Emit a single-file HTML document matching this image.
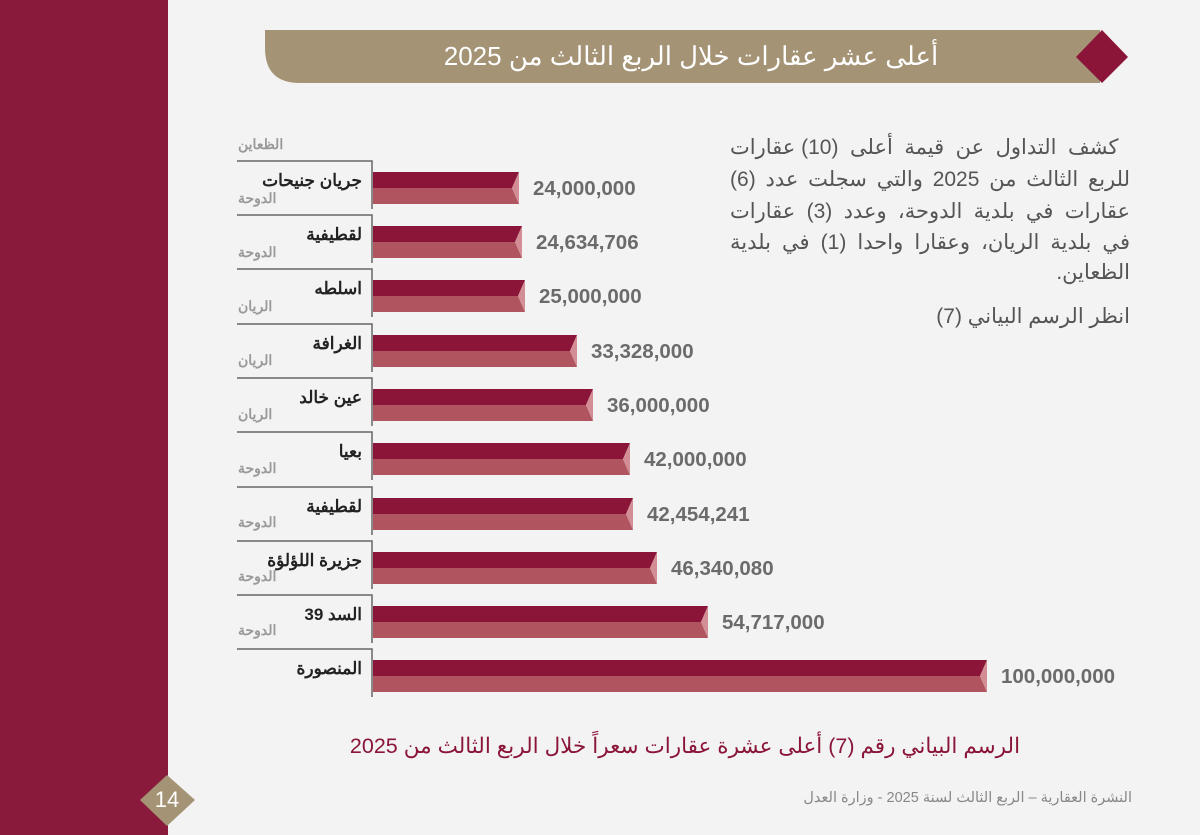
<!DOCTYPE html>
<html><head><meta charset="utf-8">
<style>
body{margin:0;width:1200px;height:835px;overflow:hidden;background:#f3f3f3;font-family:"Liberation Sans","Noto Sans CJK SC",sans-serif;position:relative}
.t{position:absolute;white-space:nowrap;line-height:1}
.nm{font-weight:bold;font-size:17px;color:#222;direction:rtl;text-align:right;right:838px}
.sb{font-size:14px;color:#999;left:238px;direction:rtl;font-weight:bold}
.v{font-weight:bold;font-size:20.5px;color:#6b6b6b}
.pl{position:absolute;left:730px;width:400px;direction:rtl;text-align:justify;text-align-last:justify;font-size:21px;line-height:1;color:#555;white-space:nowrap}
</style></head><body>
<div style="position:absolute;left:0;top:0;width:168px;height:835px;background:#8a1a3b"></div>
<svg width="1200" height="835" style="position:absolute;left:0;top:0">
<path d="M265 30 H1100 V83 H300 Q265 83 265 48 Z" fill="#a49374"/>
<polygon points="1102,30 1128,57 1102,83 1076,57" fill="#8a1538"/>
<polygon points="167,775 195,800 167,826 140,800" fill="#a49374"/>
<g stroke="#666" stroke-width="1.5" fill="none">
<path d="M237 161H372V209"/><path d="M237 215H372V263"/><path d="M237 269H372V317"/><path d="M237 324H372V372"/><path d="M237 378H372V426"/><path d="M237 432H372V480"/><path d="M237 487H372V535"/><path d="M237 541H372V589"/><path d="M237 595H372V643"/><path d="M237 649H372V697"/>
</g>
<g id="bars"></g>
</svg>
<script>
var tops=[161,215,269,324,378,432,487,541,595,649],ends=[519,522,525,577,593,630,633,657,708,987];
var g=document.getElementById('bars'),s='';
for(var i=0;i<10;i++){var t=tops[i]+11,e=ends[i];
s+='<polygon points="373,'+t+' '+e+','+t+' '+(e-7)+','+(t+16)+' 373,'+(t+16)+'" fill="#8a1538"/>';
s+='<polygon points="373,'+(t+16)+' '+(e-7)+','+(t+16)+' '+e+','+(t+32)+' 373,'+(t+32)+'" fill="#b0545f"/>';
s+='<polygon points="'+e+','+t+' '+(e-7)+','+(t+16)+' '+e+','+(t+32)+'" fill="#d38e95"/>';}
g.innerHTML=s;
</script>
<div class="t" style="left:441px;top:43px;font-size:26px;color:#fff;direction:rtl;width:500px;text-align:center">أعلى عشر عقارات خلال الربع الثالث من 2025</div>

<div class="t nm" style="top:172px">جريان جنيحات</div>
<div class="t nm" style="top:226px">لقطيفية</div>
<div class="t nm" style="top:280px">اسلطه</div>
<div class="t nm" style="top:335px">الغرافة</div>
<div class="t nm" style="top:389px">عين خالد</div>
<div class="t nm" style="top:443px">بعيا</div>
<div class="t nm" style="top:498px">لقطيفية</div>
<div class="t nm" style="top:552px">جزيرة اللؤلؤة</div>
<div class="t nm" style="top:606px">السد 39</div>
<div class="t nm" style="top:660px">المنصورة</div>

<div class="t sb" style="top:137px">الظعاين</div>
<div class="t sb" style="top:191px">الدوحة</div>
<div class="t sb" style="top:245px">الدوحة</div>
<div class="t sb" style="top:299px">الريان</div>
<div class="t sb" style="top:353px">الريان</div>
<div class="t sb" style="top:407px">الريان</div>
<div class="t sb" style="top:461px">الدوحة</div>
<div class="t sb" style="top:515px">الدوحة</div>
<div class="t sb" style="top:569px">الدوحة</div>
<div class="t sb" style="top:623px">الدوحة</div>

<div class="t v" style="left:533px;top:179px">24,000,000</div>
<div class="t v" style="left:536px;top:233px">24,634,706</div>
<div class="t v" style="left:539px;top:287px">25,000,000</div>
<div class="t v" style="left:591px;top:342px">33,328,000</div>
<div class="t v" style="left:607px;top:396px">36,000,000</div>
<div class="t v" style="left:644px;top:450px">42,000,000</div>
<div class="t v" style="left:647px;top:505px">42,454,241</div>
<div class="t v" style="left:671px;top:559px">46,340,080</div>
<div class="t v" style="left:722px;top:613px">54,717,000</div>
<div class="t v" style="left:1001px;top:667px">100,000,000</div>

<div class="pl" style="top:137px">&nbsp;كشف التداول عن قيمة أعلى (10) عقارات</div>
<div class="pl" style="top:169px">للربع الثالث من  2025 والتي سجلت عدد (6)</div>
<div class="pl" style="top:201px">عقارات في بلدية الدوحة، وعدد (3) عقارات</div>
<div class="pl" style="top:232px">في بلدية الريان، وعقارا واحدا (1) في بلدية</div>
<div class="pl" style="top:262px;text-align:right;text-align-last:right">الظعاين.</div>
<div class="pl" style="top:306px;text-align:right;text-align-last:right">انظر الرسم البياني (7)</div>

<div class="t" style="left:340px;top:736px;width:690px;text-align:center;direction:rtl;font-size:21.5px;color:#8a1538">الرسم البياني رقم (7) أعلى عشرة عقارات سعراً خلال الربع الثالث من 2025</div>
<div class="t" style="left:148px;top:789px;width:38px;text-align:center;font-size:22px;color:#fff">14</div>
<div class="t" style="right:68px;top:791px;direction:rtl;font-size:14.5px;color:#888">النشرة العقارية – الربع الثالث لسنة 2025 - وزارة العدل</div>
</body></html>
